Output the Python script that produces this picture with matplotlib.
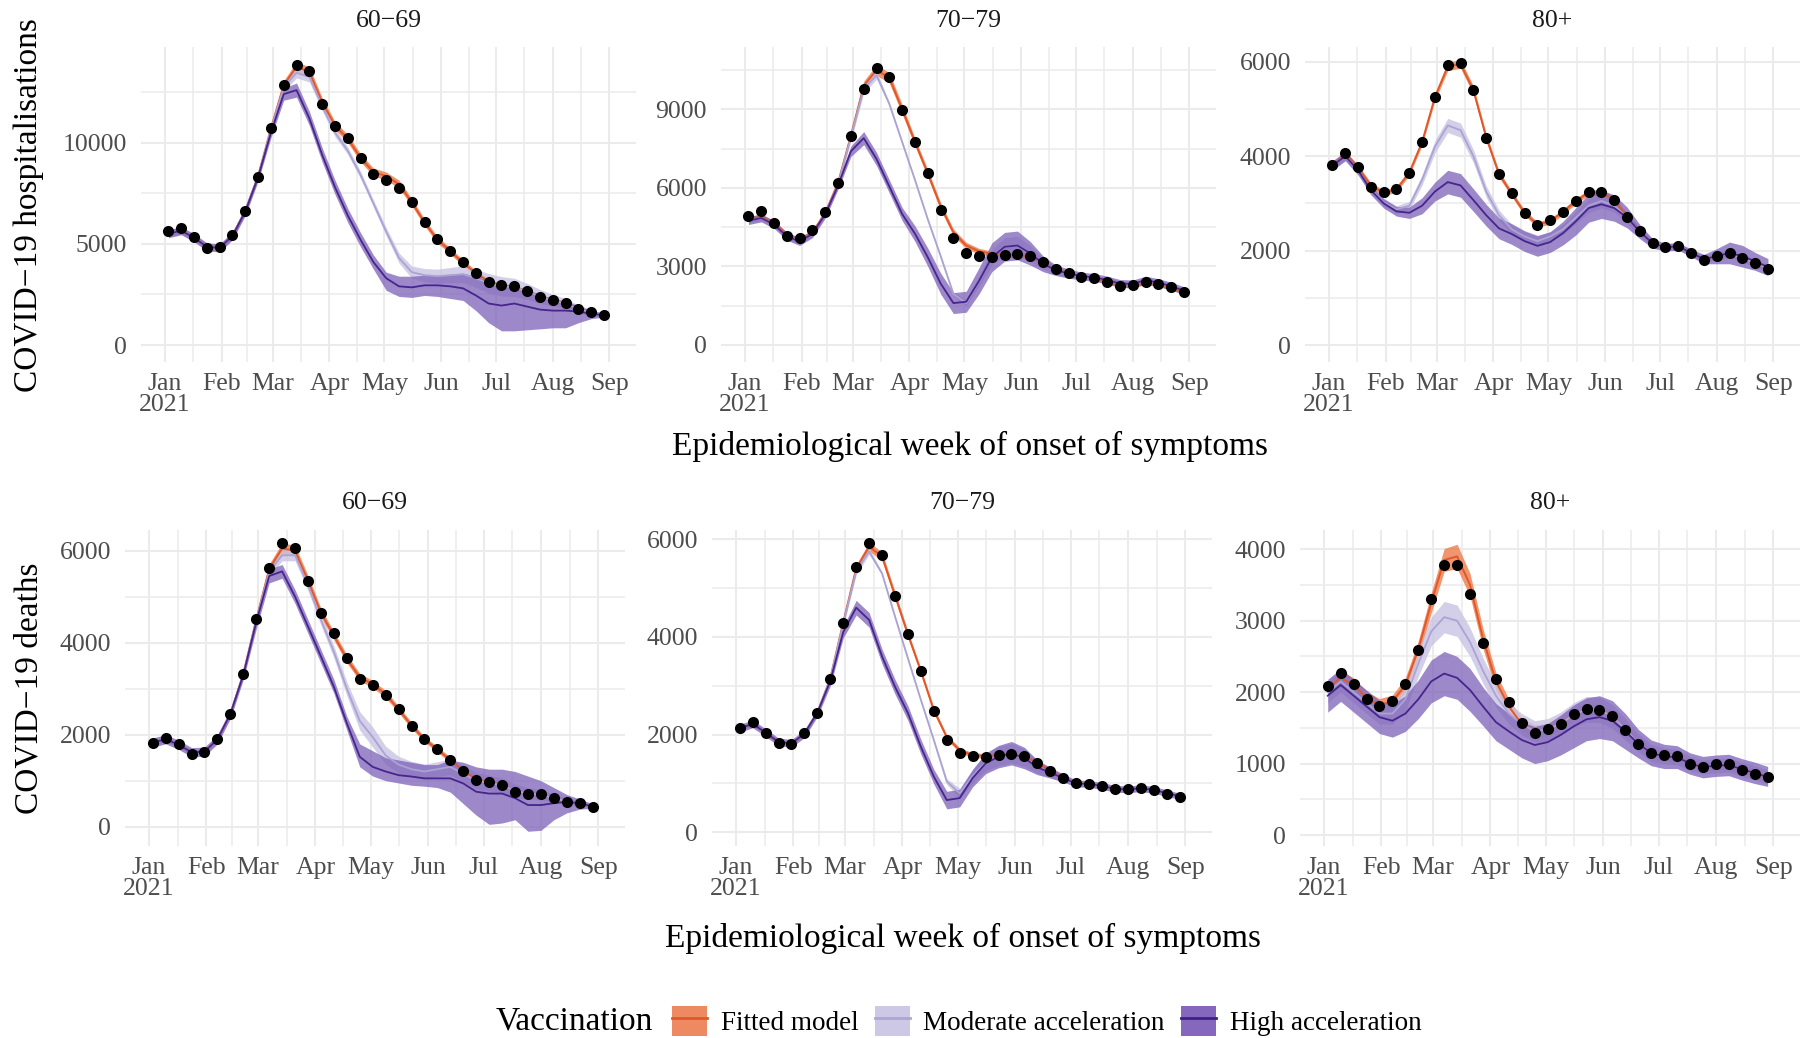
import numpy as np
import pandas as pd
import matplotlib
matplotlib.use("Agg")
import matplotlib.pyplot as plt
import matplotlib.dates as mdates
from matplotlib.ticker import FixedLocator, FuncFormatter
from matplotlib.patches import Patch
from matplotlib.lines import Line2D

plt.rcParams['font.family'] = ['Liberation Serif', 'DejaVu Serif']

# ---------------- data ----------------
weeks = pd.date_range('2021-01-03', periods=35, freq='7D')

# Hospitalisations 60-69
h6069_obs = [5650, 5800, 5350, 4780, 4830, 5440, 6620, 8320, 10740, 12850, 13840, 13540, 11910, 10820, 10250, 9230, 8430, 8150, 7740, 7050, 6100, 5220, 4660, 4090, 3580, 3130, 2970, 2920, 2670, 2390, 2220, 2090, 1760, 1610, 1480]
h6069_fit = [5550, 5650, 5300, 4850, 4800, 5400, 6650, 8350, 10700, 12850, 13750, 13500, 12000, 10850, 10200, 9250, 8550, 8350, 7950, 7050, 6050, 5200, 4650, 4050, 3550, 3150, 2950, 2880, 2650, 2400, 2220, 2080, 1800, 1600, 1470]
h6069_fit_err = [150, 150, 150, 150, 150, 150, 150, 170, 200, 220, 250, 250, 220, 200, 200, 200, 200, 200, 200, 180, 170, 160, 150, 150, 140, 130, 120, 120, 110, 100, 100, 100, 90, 80, 80]
h6069_mod = [5500, 5650, 5300, 4850, 4800, 5400, 6650, 8350, 10650, 12750, 13450, 13250, 11800, 10500, 9600, 8400, 7000, 5600, 4300, 3600, 3450, 3400, 3450, 3500, 3300, 3050, 2900, 2850, 2650, 2400, 2200, 2050, 1780, 1600, 1460]
h6069_mod_err = [150, 150, 150, 150, 150, 150, 150, 170, 200, 230, 250, 250, 220, 200, 180, 180, 180, 200, 250, 300, 330, 350, 380, 420, 450, 480, 480, 450, 400, 350, 300, 250, 200, 150, 100]
h6069_high = [5500, 5650, 5300, 4850, 4800, 5400, 6600, 8300, 10500, 12400, 12600, 11200, 9400, 7800, 6400, 5200, 4100, 3300, 2900, 2850, 2950, 2950, 2900, 2800, 2450, 2050, 1950, 2050, 1900, 1750, 1700, 1700, 1650, 1550, 1470]
h6069_high_lo = [5300, 5450, 5100, 4650, 4600, 5200, 6400, 8100, 10250, 12100, 12250, 10850, 9050, 7450, 6050, 4850, 3750, 2700, 2400, 2350, 2450, 2400, 2300, 2200, 1700, 1100, 700, 700, 750, 800, 850, 850, 1100, 1300, 1380]
h6069_high_hi = [5700, 5850, 5500, 5050, 5000, 5600, 6800, 8500, 10750, 12700, 12950, 11550, 9750, 8150, 6750, 5550, 4450, 3600, 3400, 3400, 3450, 3450, 3500, 3550, 3400, 3200, 3000, 2900, 2750, 2500, 2300, 2150, 1950, 1700, 1580]

# Hospitalisations 70-79
h7079_obs = [4920, 5120, 4660, 4180, 4070, 4390, 5080, 6190, 7970, 9790, 10570, 10230, 8990, 7750, 6580, 5170, 4090, 3530, 3390, 3370, 3430, 3470, 3390, 3150, 2890, 2730, 2610, 2570, 2410, 2250, 2290, 2410, 2330, 2200, 2030]
h7079_fit = [4800, 4900, 4650, 4200, 4000, 4300, 5050, 6200, 8000, 9900, 10500, 10200, 9000, 7750, 6550, 5300, 4300, 3800, 3580, 3480, 3450, 3450, 3380, 3150, 2900, 2720, 2610, 2560, 2420, 2270, 2280, 2380, 2320, 2180, 2020]
h7079_fit_err = [100, 100, 100, 100, 100, 100, 100, 120, 150, 180, 200, 200, 180, 150, 150, 140, 130, 120, 110, 100, 100, 100, 100, 100, 90, 90, 80, 80, 80, 80, 80, 80, 80, 80, 70]
h7079_mod = [4750, 4850, 4600, 4150, 3950, 4250, 5000, 6150, 7950, 9800, 10300, 9200, 7750, 6300, 4800, 3400, 1950, 1600, 2450, 3350, 3750, 3800, 3500, 3100, 2850, 2720, 2620, 2570, 2470, 2350, 2330, 2470, 2380, 2250, 2070]
h7079_mod_err = [100, 100, 100, 100, 100, 100, 100, 120, 150, 180, 150, 70, 60, 60, 60, 60, 80, 120, 200, 300, 350, 350, 300, 200, 150, 120, 100, 100, 100, 100, 100, 100, 100, 100, 80]
h7079_high = [4750, 4850, 4600, 4150, 3950, 4250, 5000, 6100, 7400, 7900, 7100, 6050, 5000, 4250, 3350, 2350, 1600, 1650, 2450, 3350, 3750, 3800, 3500, 3100, 2850, 2730, 2630, 2580, 2480, 2350, 2330, 2480, 2380, 2250, 2070]
h7079_high_lo = [4600, 4700, 4450, 4000, 3800, 4100, 4850, 5950, 7200, 7650, 6850, 5800, 4750, 3950, 3000, 1950, 1200, 1250, 1950, 2800, 3200, 3250, 3050, 2800, 2650, 2550, 2480, 2430, 2330, 2200, 2180, 2330, 2230, 2100, 1920]
h7079_high_hi = [4900, 5000, 4750, 4300, 4100, 4400, 5150, 6250, 7600, 8150, 7350, 6300, 5250, 4550, 3700, 2750, 2000, 2050, 2950, 3900, 4300, 4350, 3950, 3400, 3050, 2900, 2780, 2730, 2630, 2500, 2480, 2630, 2530, 2400, 2220]

# Hospitalisations 80+
h80_obs = [3810, 4070, 3760, 3350, 3230, 3300, 3650, 4290, 5250, 5940, 5970, 5400, 4380, 3620, 3210, 2800, 2540, 2650, 2820, 3040, 3230, 3230, 3070, 2720, 2410, 2150, 2070, 2100, 1940, 1810, 1890, 1940, 1840, 1740, 1620]
h80_fit = [3800, 4050, 3750, 3380, 3220, 3300, 3650, 4300, 5250, 5900, 5950, 5400, 4400, 3620, 3200, 2800, 2550, 2620, 2820, 3050, 3230, 3230, 3070, 2730, 2400, 2150, 2070, 2090, 1950, 1820, 1880, 1940, 1840, 1740, 1620]
h80_fit_err = [60, 60, 60, 60, 60, 60, 60, 70, 80, 90, 90, 90, 80, 70, 60, 60, 60, 60, 60, 60, 60, 60, 60, 60, 50, 50, 50, 50, 50, 50, 50, 50, 50, 50, 50]
h80_mod = [3800, 4000, 3700, 3300, 3020, 2870, 2950, 3500, 4200, 4650, 4550, 4000, 3250, 2750, 2450, 2300, 2200, 2300, 2450, 2700, 2950, 3050, 2950, 2700, 2400, 2150, 2070, 2090, 1950, 1820, 1880, 1940, 1840, 1740, 1620]
h80_mod_err = [80, 80, 80, 80, 80, 80, 90, 110, 130, 150, 150, 140, 120, 110, 100, 100, 100, 100, 110, 130, 150, 150, 140, 120, 100, 80, 70, 70, 70, 70, 80, 90, 90, 80, 70]
h80_high = [3800, 4000, 3700, 3280, 3000, 2830, 2800, 2950, 3250, 3450, 3380, 3070, 2750, 2470, 2350, 2200, 2100, 2180, 2370, 2620, 2900, 2980, 2900, 2700, 2400, 2150, 2070, 2090, 1950, 1820, 1880, 1950, 1880, 1770, 1650]
h80_high_lo = [3700, 3900, 3600, 3180, 2900, 2730, 2680, 2780, 3050, 3200, 3130, 2830, 2520, 2250, 2130, 1980, 1880, 1960, 2120, 2330, 2600, 2680, 2620, 2480, 2250, 2050, 1990, 2010, 1870, 1720, 1720, 1720, 1650, 1580, 1470]
h80_high_hi = [3900, 4100, 3800, 3380, 3100, 2930, 2920, 3120, 3450, 3700, 3630, 3310, 2980, 2690, 2570, 2420, 2320, 2400, 2620, 2910, 3200, 3280, 3180, 2920, 2550, 2250, 2150, 2170, 2030, 1920, 2040, 2180, 2110, 1960, 1830]

# Deaths 60-69
d6069_obs = [1810, 1920, 1790, 1590, 1620, 1910, 2460, 3320, 4510, 5630, 6160, 6060, 5350, 4640, 4200, 3660, 3220, 3070, 2870, 2550, 2190, 1900, 1680, 1450, 1210, 1010, 980, 910, 760, 720, 700, 620, 540, 510, 430]
d6069_fit = [1830, 1900, 1780, 1620, 1630, 1900, 2450, 3320, 4500, 5600, 6050, 6000, 5350, 4650, 4150, 3650, 3250, 3100, 2880, 2550, 2200, 1900, 1680, 1450, 1220, 1020, 970, 910, 780, 720, 690, 620, 550, 510, 440]
d6069_fit_err = [50, 50, 50, 50, 50, 50, 60, 70, 90, 110, 120, 120, 110, 100, 90, 90, 80, 80, 80, 70, 70, 60, 60, 60, 50, 50, 50, 40, 40, 40, 40, 40, 40, 30, 30]
d6069_mod = [1830, 1900, 1780, 1620, 1630, 1900, 2450, 3320, 4480, 5550, 5900, 5900, 5250, 4500, 3800, 3000, 2300, 1950, 1550, 1350, 1250, 1200, 1250, 1300, 1150, 1000, 950, 900, 780, 720, 690, 620, 550, 510, 440]
d6069_mod_err = [50, 50, 50, 50, 50, 50, 60, 70, 90, 110, 120, 120, 120, 120, 130, 150, 200, 220, 200, 180, 170, 160, 160, 170, 180, 180, 170, 160, 150, 130, 110, 90, 70, 50, 40]
d6069_high = [1830, 1900, 1780, 1620, 1630, 1900, 2450, 3300, 4450, 5450, 5550, 5000, 4350, 3700, 3040, 2250, 1520, 1300, 1200, 1120, 1090, 1050, 1050, 1050, 940, 760, 720, 720, 620, 470, 470, 510, 540, 510, 440]
d6069_high_lo = [1730, 1800, 1680, 1520, 1530, 1800, 2350, 3200, 4300, 5300, 5400, 4850, 4200, 3550, 2900, 2100, 1300, 1100, 1000, 950, 900, 880, 850, 750, 500, 250, 50, 80, 150, -100, -80, 150, 300, 380, 400]
d6069_high_hi = [1930, 2000, 1880, 1720, 1730, 2000, 2550, 3400, 4600, 5600, 5700, 5150, 4500, 3850, 3200, 2400, 1800, 1650, 1500, 1450, 1400, 1350, 1350, 1450, 1400, 1300, 1250, 1250, 1200, 1100, 1000, 850, 700, 600, 500]

# Deaths 70-79
d7079_obs = [2130, 2250, 2040, 1820, 1810, 2030, 2450, 3140, 4290, 5430, 5920, 5670, 4840, 4060, 3310, 2490, 1900, 1620, 1560, 1550, 1580, 1600, 1570, 1410, 1260, 1120, 1000, 990, 950, 880, 880, 910, 870, 790, 730]
d7079_fit = [2130, 2220, 2040, 1850, 1820, 2020, 2450, 3150, 4300, 5400, 5850, 5650, 4850, 4050, 3300, 2500, 1950, 1680, 1580, 1560, 1580, 1590, 1560, 1420, 1260, 1120, 1010, 990, 950, 890, 880, 900, 870, 800, 740]
d7079_fit_err = [40, 40, 40, 40, 40, 40, 50, 60, 70, 80, 90, 90, 80, 70, 60, 60, 50, 50, 50, 50, 50, 50, 50, 40, 40, 40, 40, 40, 30, 30, 30, 30, 30, 30, 30]
d7079_mod = [2130, 2220, 2040, 1850, 1820, 2020, 2450, 3150, 4280, 5350, 5750, 5300, 4420, 3560, 2710, 1890, 1040, 800, 1150, 1430, 1560, 1620, 1530, 1340, 1220, 1110, 1000, 990, 950, 890, 880, 900, 870, 800, 740]
d7079_mod_err = [40, 40, 40, 40, 40, 40, 50, 60, 70, 80, 60, 35, 30, 30, 30, 30, 60, 100, 140, 170, 200, 200, 180, 130, 100, 80, 60, 50, 50, 50, 50, 50, 40, 40, 40]
d7079_high = [2130, 2220, 2040, 1850, 1820, 2020, 2450, 3100, 4100, 4600, 4350, 3600, 2980, 2440, 1750, 1140, 660, 700, 1110, 1410, 1550, 1620, 1520, 1330, 1220, 1110, 1000, 990, 950, 890, 880, 900, 870, 800, 740]
d7079_high_lo = [2050, 2140, 1960, 1770, 1740, 1940, 2370, 3000, 3980, 4450, 4200, 3450, 2830, 2290, 1600, 990, 480, 520, 930, 1200, 1320, 1380, 1300, 1180, 1110, 1030, 930, 920, 880, 820, 810, 830, 800, 730, 680]
d7079_high_hi = [2210, 2300, 2120, 1930, 1900, 2100, 2530, 3200, 4220, 4750, 4500, 3750, 3130, 2590, 1900, 1290, 840, 880, 1290, 1620, 1780, 1860, 1740, 1480, 1330, 1190, 1070, 1060, 1020, 960, 950, 970, 940, 870, 800]

# Deaths 80+
d80_obs = [2080, 2270, 2120, 1900, 1810, 1880, 2120, 2590, 3300, 3780, 3780, 3380, 2690, 2180, 1860, 1570, 1430, 1480, 1560, 1690, 1770, 1750, 1670, 1470, 1280, 1150, 1120, 1110, 990, 950, 990, 990, 910, 860, 810]
d80_fit = [2050, 2200, 2100, 1920, 1820, 1870, 2100, 2600, 3250, 3850, 3900, 3500, 2750, 2150, 1800, 1550, 1450, 1480, 1560, 1680, 1760, 1750, 1660, 1480, 1290, 1150, 1110, 1090, 1000, 950, 970, 980, 920, 870, 810]
d80_fit_err = [100, 100, 100, 90, 90, 90, 100, 120, 140, 160, 170, 160, 140, 120, 100, 90, 90, 90, 90, 90, 90, 90, 90, 80, 80, 70, 70, 70, 60, 60, 60, 60, 60, 60, 60]
d80_mod = [2000, 2150, 2000, 1850, 1700, 1700, 1900, 2400, 2850, 3050, 3000, 2700, 2300, 1950, 1700, 1550, 1450, 1480, 1560, 1680, 1760, 1750, 1660, 1480, 1290, 1150, 1110, 1090, 1000, 950, 970, 980, 920, 870, 810]
d80_mod_err = [150, 150, 150, 150, 150, 150, 160, 180, 200, 220, 220, 200, 180, 160, 150, 150, 150, 150, 160, 170, 180, 180, 170, 150, 130, 120, 110, 110, 100, 100, 100, 100, 100, 100, 100]
d80_high = [1950, 2100, 1950, 1800, 1650, 1600, 1700, 1900, 2150, 2260, 2200, 2030, 1800, 1580, 1450, 1330, 1260, 1300, 1400, 1520, 1620, 1650, 1600, 1450, 1280, 1150, 1100, 1090, 1000, 950, 970, 980, 920, 870, 810]
d80_high_lo = [1720, 1870, 1720, 1570, 1420, 1370, 1450, 1630, 1850, 1950, 1900, 1730, 1530, 1320, 1200, 1080, 1000, 1040, 1120, 1220, 1320, 1350, 1320, 1200, 1080, 970, 930, 930, 850, 800, 820, 830, 770, 720, 680]
d80_high_hi = [2180, 2330, 2180, 2030, 1880, 1830, 1950, 2170, 2450, 2570, 2500, 2330, 2070, 1840, 1700, 1580, 1520, 1560, 1680, 1820, 1920, 1950, 1880, 1700, 1480, 1330, 1270, 1250, 1150, 1100, 1120, 1130, 1070, 1020, 960]

panel_titles = ['60\u221269', '70\u221279', '80+']
month_labels = ['Jan\n2021', 'Feb', 'Mar', 'Apr', 'May', 'Jun', 'Jul', 'Aug', 'Sep']
legend_labels = ['Fitted model', 'Moderate acceleration', 'High acceleration']

# ---------------- style ----------------
FIT_LINE, FIT_BAND = '#E0582A', '#EE7B4A'
MOD_LINE, MOD_BAND = '#ABA3D4', '#C9C4E4'
HIGH_LINE, HIGH_BAND = '#46258D', '#7D62B8'
GRID = '#EBEBEB'
TICK_COL = '#4D4D4D'

W, H = 1804, 1038
fig = plt.figure(figsize=(W / 100, H / 100), dpi=100)
fig.patch.set_facecolor('white')


def rect(left, top, w, h):
    return [left / W, 1 - (top + h) / H, w / W, h / H]


month_starts = pd.date_range('2021-01-01', periods=9, freq='MS')
mnum = mdates.date2num(month_starts)
minor_x = (mnum[:-1] + mnum[1:]) / 2
xlim = (mdates.date2num(pd.Timestamp('2020-12-19')), mdates.date2num(pd.Timestamp('2021-09-15 12:00')))

panels = [
    (141, 47, 495, 315, (-840, 14730), [0, 5000, 10000], [2500, 7500, 12500],
     (h6069_obs, h6069_fit, h6069_fit_err, h6069_mod, h6069_mod_err, h6069_high, h6069_high_lo, h6069_high_hi)),
    (721, 47, 495, 315, (-650, 11380), [0, 3000, 6000, 9000], [1500, 4500, 7500, 10500],
     (h7079_obs, h7079_fit, h7079_fit_err, h7079_mod, h7079_mod_err, h7079_high, h7079_high_lo, h7079_high_hi)),
    (1305, 47, 495, 315, (-360, 6311), [0, 2000, 4000, 6000], [1000, 3000, 5000],
     (h80_obs, h80_fit, h80_fit_err, h80_mod, h80_mod_err, h80_high, h80_high_lo, h80_high_hi)),
    (125, 530, 500, 316, (-420, 6450), [0, 2000, 4000, 6000], [1000, 3000, 5000],
     (d6069_obs, d6069_fit, d6069_fit_err, d6069_mod, d6069_mod_err, d6069_high, d6069_high_lo, d6069_high_hi)),
    (712, 530, 500, 316, (-281, 6191), [0, 2000, 4000, 6000], [1000, 3000, 5000],
     (d7079_obs, d7079_fit, d7079_fit_err, d7079_mod, d7079_mod_err, d7079_high, d7079_high_lo, d7079_high_hi)),
    (1300, 530, 500, 316, (-154, 4270), [0, 1000, 2000, 3000, 4000], [500, 1500, 2500, 3500],
     (d80_obs, d80_fit, d80_fit_err, d80_mod, d80_mod_err, d80_high, d80_high_lo, d80_high_hi)),
]


def month_fmt(x, pos):
    d = mdates.num2date(x)
    return month_labels[d.month - 1] if 1 <= d.month <= 9 else ''


for i, (l, t, w, h, ylim, major, minor, data) in enumerate(panels):
    obs, fit, fit_err, mod, mod_err, high, hlo, hhi = [np.asarray(a, dtype=float) for a in data]
    ax = fig.add_axes(rect(l, t, w, h))
    ax.fill_between(weeks, fit - fit_err, fit + fit_err, color=FIT_BAND, alpha=0.8, lw=0)
    ax.fill_between(weeks, mod - mod_err, mod + mod_err, color=MOD_BAND, alpha=0.8, lw=0)
    ax.fill_between(weeks, hlo, hhi, color=HIGH_BAND, alpha=0.75, lw=0)
    ax.plot(weeks, fit, color=FIT_LINE, lw=1.4)
    ax.plot(weeks, mod, color=MOD_LINE, lw=1.3)
    ax.plot(weeks, high, color=HIGH_LINE, lw=1.3)
    ax.plot(weeks, obs, 'o', color='black', ms=8, mec='none', zorder=5)

    ax.set_xlim(*xlim)
    ax.set_ylim(*ylim)
    ax.xaxis.set_major_locator(FixedLocator(mnum))
    ax.xaxis.set_minor_locator(FixedLocator(minor_x))
    ax.xaxis.set_major_formatter(FuncFormatter(month_fmt))
    ax.yaxis.set_major_locator(FixedLocator(major))
    ax.yaxis.set_minor_locator(FixedLocator(minor))
    ax.set_yticklabels([str(v) for v in major])
    ax.grid(which='major', color=GRID, lw=1.5)
    ax.grid(which='minor', color=GRID, lw=1.1)
    ax.set_axisbelow(True)
    for s in ax.spines.values():
        s.set_visible(False)
    ax.tick_params(which='both', length=0, labelsize=18.5, labelcolor=TICK_COL)
    ax.tick_params(axis='x', pad=8)
    ax.tick_params(axis='y', pad=10)
    for lab in ax.get_xticklabels():
        lab.set_linespacing(0.95)

    title_y = 21 if t < 300 else 503
    fig.text((l + w / 2) / W, 1 - title_y / H, panel_titles[i % 3], ha='center', va='center',
             fontsize=18.5, color='#1A1A1A')

fig.text(29 / W, 1 - 205 / H, 'COVID\u221219 hospitalisations', rotation=90, ha='center', va='center', fontsize=24)
fig.text(29 / W, 1 - 688 / H, 'COVID\u221219 deaths', rotation=90, ha='center', va='center', fontsize=24)
fig.text(970 / W, 1 - 446 / H, 'Epidemiological week of onset of symptoms', ha='center', va='center', fontsize=24)
fig.text(963 / W, 1 - 938 / H, 'Epidemiological week of onset of symptoms', ha='center', va='center', fontsize=24)

# legend
fig.text(496 / W, 1 - 1021 / H, 'Vaccination', ha='left', va='center', fontsize=24)
handles = [
    (Patch(facecolor='#EE8A62', edgecolor='none'), Line2D([], [], color=FIT_LINE, lw=2)),
    (Patch(facecolor='#CDC8E6', edgecolor='none'), Line2D([], [], color='#ADA5D6', lw=2)),
    (Patch(facecolor='#8568BD', edgecolor='none'), Line2D([], [], color='#3F1E8A', lw=2)),
]
fig.legend(handles, legend_labels, loc='center left', bbox_to_anchor=(672 / W, 1 - 1021 / H),
           ncol=3, frameon=False, fontsize=19.5, handlelength=1.3, handleheight=1.3,
           handletextpad=0.5, columnspacing=0.6, borderpad=0, borderaxespad=0)

fig.savefig('out.png', dpi=100, facecolor='white')
